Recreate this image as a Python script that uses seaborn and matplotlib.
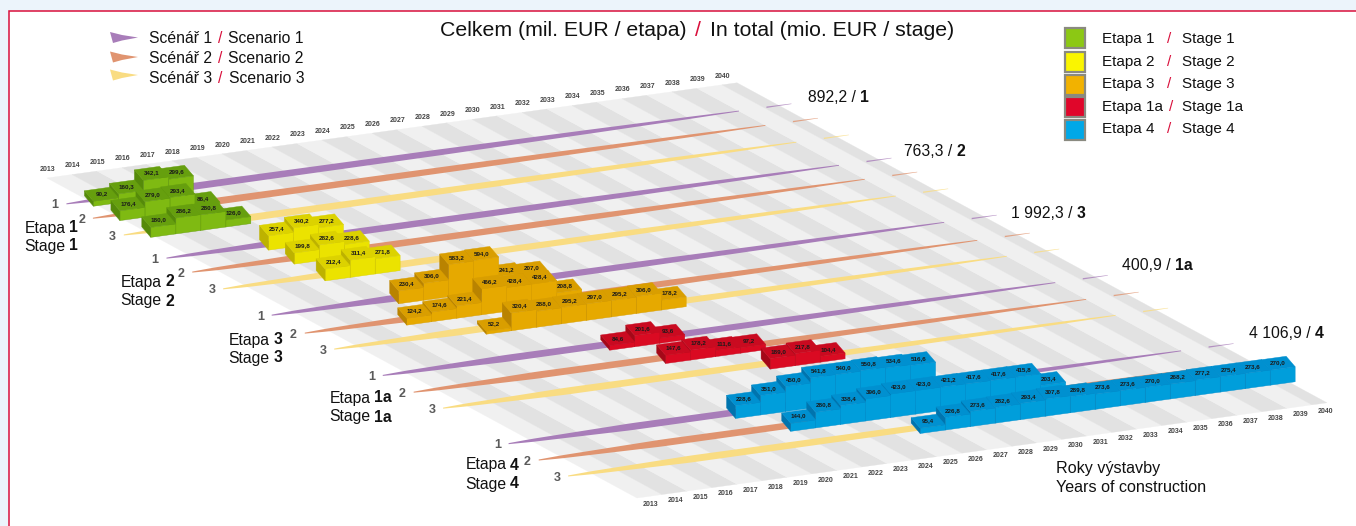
import numpy as np
import pandas as pd
import matplotlib
matplotlib.use("Agg")
import matplotlib.pyplot as plt
from matplotlib.patches import Polygon, Rectangle
import seaborn as sns

# ---------- data ----------
years = list(range(2013, 2041))
stage_names = ["1", "2", "3", "1a", "4"]
stage_totals = ["892,2", "763,3", "1 992,3", "400,9", "4 106,9"]
scenario_names = ["Scénář 1", "Scénář 2", "Scénář 3"]
scenario_names_en = ["Scenario 1", "Scenario 2", "Scenario 3"]

s1_start = [2013, 2013, 2013]
s1_r1 = [90.2, 160.3, 342.1, 299.6]
s1_r2 = [176.4, 279.0, 293.4, 86.4]
s1_r3 = [180.0, 286.2, 280.8, 126.0]

s2_start = [2016, 2016, 2016]
s2_r1 = [257.4, 340.2, 277.2]
s2_r2 = [199.8, 282.6, 228.6]
s2_r3 = [212.4, 311.4, 271.8]

s3_start = [2017, 2016, 2018]
s3_r1 = [230.4, 306.0, 583.2, 594.0, 241.2, 207.0]
s3_r2 = [124.2, 174.6, 221.4, 466.2, 428.4, 428.4, 208.8]
s3_r3 = [52.2, 320.4, 288.0, 295.2, 297.0, 295.2, 306.0, 178.2]

s1a_start = [2021, 2022, 2025]
s1a_r1 = [84.6, 201.6, 93.6]
s1a_r2 = [147.6, 178.2, 111.6, 97.2]
s1a_r3 = [189.0, 217.8, 104.4]

s4_start = [2021, 2022, 2026]
s4_r1 = [228.6, 351.0, 450.0, 541.8, 540.0, 550.8, 534.6, 516.6]
s4_r2 = [144.0, 280.8, 338.4, 396.0, 423.0, 423.0, 421.2, 417.6, 417.6, 415.8, 203.4]
s4_r3 = [95.4, 226.8, 273.6, 282.6, 293.4, 307.8, 289.8, 273.6, 273.6, 270.0, 268.2, 277.2, 275.4, 273.6, 270.0]

stage_rows = [
    (s1_start, [s1_r1, s1_r2, s1_r3]),
    (s2_start, [s2_r1, s2_r2, s2_r3]),
    (s3_start, [s3_r1, s3_r2, s3_r3]),
    (s1a_start, [s1a_r1, s1a_r2, s1a_r3]),
    (s4_start, [s4_r1, s4_r2, s4_r3]),
]

records = []
for si, (starts, rows) in enumerate(stage_rows):
    for ri, (st, vals) in enumerate(zip(starts, rows)):
        for k, v in enumerate(vals):
            records.append(dict(stage=si, row=ri, year=st + k, value=v))
bars = pd.DataFrame(records)

# ---------- style ----------
sns.set_theme(style="white")
plt.rcParams["font.family"] = ["Liberation Sans", "DejaVu Sans"]
W, H = 1356, 526
fig = plt.figure(figsize=(W / 100, H / 100), dpi=100, facecolor="#ecf4fb")
ax = fig.add_axes([0, 0, 1, 1])
ax.set_xlim(0, W)
ax.set_ylim(H, 0)
ax.axis("off")
sns.despine(ax=ax, left=True, bottom=True)

RED = "#d9103c"
ax.add_patch(Rectangle((9, 11), W, H, fc="white", ec=RED, lw=1.1, zorder=0))

# oblique projection of the floor
O = np.array([47.0, 178.0])
U = np.array([25.0, -3.45])
V = np.array([590.0, 320.0])
C0, CK = 184.5, 401.0
HSCALE = 18.0
BACK = np.array([-4.5, -5.0])
FRONT = np.array([4.5, 5.5])


def P(a, c, h=0.0, off=(0.0, 0.0)):
    t = (c - C0) / CK
    p = O + a * U + t * V
    return (p[0] + off[0], p[1] - h + off[1])


row_c = [[213, 231, 252], [281, 298.5, 319.5], [352.5, 375, 395], [428, 449, 469], [513.5, 534, 554]]
line_cols = ["#a87db9", "#e09470", "#f9dc82"]
face_cols = {
    0: ("#7fba12", "#669f0e", "#558a0a"),
    1: ("#ebe300", "#dcd200", "#bdb200"),
    2: ("#e6a900", "#d99e00", "#b98300"),
    3: ("#da0a22", "#c90a20", "#a40818"),
    4: ("#009edb", "#0090d0", "#0074ae"),
}

z = 1
# floor stripes
for i in range(28):
    col = "#e2e2e2" if i % 2 else "#f0f0f0"
    end = i + (0.6 if i == 27 else 1)
    ax.add_patch(Polygon([P(i, C0), P(end, C0), P(end, C0 + CK), P(i, C0 + CK)], fc=col, ec=col, lw=0.2, zorder=z))
z += 1

# year labels
for i, y in enumerate(years):
    x1, y1 = P(i + 0.5, C0)
    ax.text(x1 - 12, y1 - 7, str(y), fontsize=5.0, fontweight="bold", color="#444444",
            ha="center", va="center", zorder=z)
    x2, y2 = P(i + 0.5, C0 + CK)
    ax.text(x2 + 1, y2 + 8, str(y), fontsize=5.0, fontweight="bold", color="#444444",
            ha="center", va="center", zorder=z)
z += 1

prof_a = [-0.9, 0, 4, 14, 20, 24, 26]
prof_w = [1.0, 3.0, 7.0, 6.0, 4.0, 2.2, 0.8]


def draw_line(c, col, z):
    aa = np.linspace(-0.9, 26, 80)
    ww = np.interp(aa, prof_a, prof_w)
    xy = np.array([P(a, c) for a in aa])
    upper = np.c_[xy[:, 0], xy[:, 1] - ww / 2]
    lower = np.c_[xy[:, 0], xy[:, 1] + ww / 2][::-1]
    ax.add_patch(Polygon(np.r_[upper, lower], fc=col, ec="none", zorder=z))
    aa = np.linspace(27.1, 28.1, 8)
    xy = np.array([P(a, c) for a in aa])
    ww = np.linspace(1.4, 0.5, 8)
    upper = np.c_[xy[:, 0], xy[:, 1] - ww / 2]
    lower = np.c_[xy[:, 0], xy[:, 1] + ww / 2][::-1]
    ax.add_patch(Polygon(np.r_[upper, lower], fc=col, ec="none", alpha=0.8, zorder=z))


# rows back to front, bars right to left
for si in range(5):
    for ri in range(3):
        c = row_c[si][ri]
        draw_line(c, line_cols[ri], z)
        z += 1
        nx, ny = P(-1.35, c)
        ax.text(nx, ny, str(ri + 1), fontsize=9, fontweight="bold", color="#5a5a5a",
                ha="center", va="center", zorder=z)
        sub = bars[(bars.stage == si) & (bars.row == ri)].sort_values("year", ascending=False)
        fc, tc, lc = face_cols[si]
        for rec in sub.itertuples():
            a = rec.year - 2013
            h = rec.value / HSCALE
            ax.add_patch(Polygon([P(a, c, 0, FRONT), P(a + 1, c, 0, FRONT), P(a + 1, c, h, FRONT), P(a, c, h, FRONT)],
                                 fc=fc, ec=tc, lw=0.3, zorder=z))
            ax.add_patch(Polygon([P(a, c, 0, BACK), P(a, c, 0, FRONT), P(a, c, h, FRONT), P(a, c, h, BACK)],
                                 fc=lc, ec=lc, lw=0.3, zorder=z))
            ax.add_patch(Polygon([P(a, c, h, BACK), P(a + 1, c, h, BACK), P(a + 1, c, h, FRONT), P(a, c, h, FRONT)],
                                 fc=tc, ec=tc, lw=0.3, zorder=z))
            lx, ly = P(a + 0.5, c, h)
            ax.text(lx, ly, f"{rec.value:.1f}".replace(".", ","), fontsize=4.5, fontweight="bold",
                    color="#1a1a1a", ha="center", va="center", zorder=z + 0.5)
            z += 1

TZ = z + 10
renderer = fig.canvas.get_renderer()
TXT = "#111111"


def rich_left(x, y, parts, gap=4.0, fs=11.3):
    for s, kw in parts:
        t = ax.text(x, y, s, fontsize=fs, va="center", ha="left", color=kw.get("color", TXT),
                    fontweight=kw.get("weight", "normal"), zorder=TZ)
        x = t.get_window_extent(renderer).x1 + gap


def rich_right(x, y, parts, gap=3.5, fs=11.3):
    for s, kw in reversed(parts):
        t = ax.text(x, y, s, fontsize=fs, va="center", ha="right", color=kw.get("color", TXT),
                    fontweight=kw.get("weight", "normal"), zorder=TZ)
        x = t.get_window_extent(renderer).x0 - gap


rich_left(440, 30, [("Celkem (mil. EUR / etapa)", {}), ("/", {"color": RED}), ("In total (mio. EUR / stage)", {})],
          gap=8.5, fs=15.3)

# scenario legend
leg_y = [37.5, 57, 75]
text_y = [38.5, 58.7, 78.7]
for col, y0, ty, cz, en in zip(line_cols, leg_y, text_y, scenario_names, scenario_names_en):
    ax.add_patch(Polygon([(110, y0 - 5.5), (122, y0 - 2.5), (138, y0), (122, y0 + 3), (113, y0 + 5.5)],
                         fc=col, ec="none", zorder=TZ))
    rich_left(149, ty, [(cz, {}), ("/", {"color": RED}), (en, {})], gap=6)

# stage legend
sw_top = [28, 51.5, 74.5, 97, 120]
sw_cols = ["#8cc814", "#faf500", "#f2b200", "#e0062a", "#00a8e8"]
lab_y = [39, 61.7, 84, 106.7, 129.3]
for top, col, ly, st in zip(sw_top, sw_cols, lab_y, stage_names):
    ax.add_patch(Rectangle((1065, top), 20, 20, fc=col, ec="#8a8a80", lw=1.6, zorder=TZ))
    ax.text(1102.5, ly, f"Etapa {st}", fontsize=11, va="center", color=TXT, zorder=TZ)
    ax.text(1167 if st != "1a" else 1169, ly, "/", fontsize=11, va="center", color=RED, zorder=TZ)
    ax.text(1182.5, ly, f"Stage {st}", fontsize=11, va="center", color=TXT, zorder=TZ)

# totals per stage
tot_xy = [(808, 97), (904, 152), (1011, 214), (1122, 265), (1249, 333)]
for (tx, ty), val, st in zip(tot_xy, stage_totals, stage_names):
    rich_left(tx, ty, [(f"{val} /", {}), (st, {"weight": "bold"})])

# stage captions
cap_xy = [(78, 228, 246), (174, 282, 301), (282, 340, 358), (392, 398, 417), (519, 465, 484)]
for (cx, y1, y2), st in zip(cap_xy, stage_names):
    rich_right(cx, y1, [("Etapa", {}), (st, {"weight": "bold"})])
    rich_right(cx, y2, [("Stage", {}), (st, {"weight": "bold"})])

ax.text(1056, 468, "Roky výstavby", fontsize=11.6, va="center", color=TXT, zorder=TZ)
ax.text(1056, 488, "Years of construction", fontsize=11.6, va="center", color=TXT, zorder=TZ)

fig.savefig("out.png", dpi=100, facecolor=fig.get_facecolor())
